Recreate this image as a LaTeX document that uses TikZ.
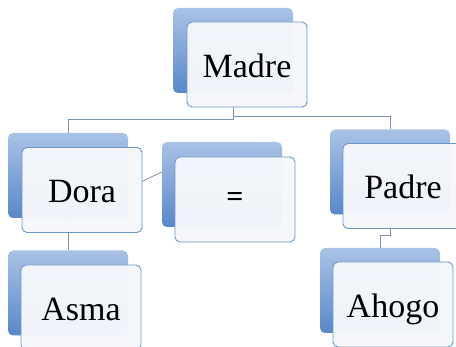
\documentclass[tikz,border=0pt]{standalone}
\usepackage{fontspec}
\setmainfont{Liberation Serif}
\usetikzlibrary{calc}
\definecolor{backtop}{HTML}{A9C2E6}
\definecolor{backbot}{HTML}{5788C9}
\definecolor{frontfill}{HTML}{F5F7FB}
\definecolor{frontline}{HTML}{6B97CC}
\definecolor{linkcol}{HTML}{7B93B5}
\tikzset{
  backbox/.style={rounded corners=5pt, minimum width=120pt, minimum height=85pt,
    inner sep=0pt, top color=backtop, bottom color=backbot, draw=none},
  frontbox/.style={draw=frontline, line width=0.9pt, rounded corners=5pt,
    fill=frontfill, fill opacity=0.97, text opacity=1, minimum width=120pt,
    minimum height=85pt, inner sep=0pt},
  word/.style={font=\fontsize{34}{40}\selectfont, text height=30pt, text depth=4pt},
  link/.style={draw=linkcol, line width=0.8pt}
}
\begin{document}
\begin{tikzpicture}[x=1pt,y=-1pt]
\useasboundingbox (0,0) rectangle (456,347);
\clip (0,0) rectangle (456,347);

% back plates
\node[backbox] (madreB) at (233,50.5) {};
\node[backbox] (doraB)  at (68,175.5) {};
\node[backbox] (eqB)    at (222,184.5) {};
\node[backbox] (padreB) at (390,172) {};
\node[backbox] (asmaB)  at (68,293) {};
\node[backbox] (ahogoB) at (380,290.5) {};

% connectors
\coordinate (jl) at (233,119);
\coordinate (jr) at (233,116.5);
\coordinate (pstep) at (390,235);
\draw[link] (madreB.south) -- (jl) -- (jl -| doraB.north) -- (doraB.north);
\draw[link] (jr) -- (jr -| padreB.north) -- (padreB.north);
\draw[link] (doraB.south) -- (asmaB.north);
\draw[link] ($(doraB.east)+(0,12.5)$) -- ($(eqB.west)+(0,-12.5)$);
\draw[link] (padreB.south) -- (pstep) -- (pstep -| ahogoB.north) -- (ahogoB.north);

% front cards
\node[frontbox, word] (madre) at ($(madreB)+(14,14)$) {Madre};
\node[frontbox, word] (dora)  at ($(doraB)+(14,14.5)$) {Dora};
\node[frontbox, font=\fontsize{30}{34}\selectfont\bfseries] (eq) at ($(eqB)+(13,15)$) {=};
\node[frontbox, word] (padre) at ($(padreB)+(13,14)$) {Padre};
\node[frontbox, word] (asma)  at ($(asmaB)+(13,14.5)$) {Asma};
\node[frontbox, word] (ahogo) at ($(ahogoB)+(13,14)$) {Ahogo};
\end{tikzpicture}
\end{document}
